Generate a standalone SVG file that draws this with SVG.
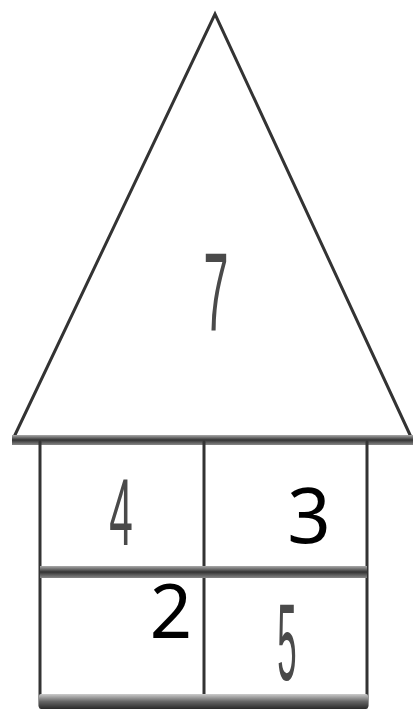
<svg xmlns="http://www.w3.org/2000/svg" width="415" height="714" viewBox="0 0 415 714">
  <style>
    .edge { stroke: #333; stroke-width: 3; fill: none; stroke-linecap: round; }
    .hand { font-family: "Liberation Sans", Arial, sans-serif; fill: #4a4a4a; text-anchor: middle; }
    .num { font-family: "Noto Sans", "Open Sans", sans-serif; fill: #000; text-anchor: middle; }
  </style>
  <defs>
    <linearGradient id="band" x1="0" y1="0" x2="0" y2="1">
      <stop offset="0" stop-color="#ccc"/>
      <stop offset="0.5" stop-color="#666"/>
      <stop offset="1" stop-color="#2a2a2a"/>
    </linearGradient>
    <linearGradient id="thin" x1="0" y1="0" x2="0" y2="1">
      <stop offset="0" stop-color="#aaa"/>
      <stop offset="0.5" stop-color="#333"/>
      <stop offset="1" stop-color="#888"/>
    </linearGradient>
  </defs>
  <rect width="415" height="714" fill="#fff"/>

  <g id="roof">
    <polyline class="edge" points="14,437 215,14 411,437"/>
    <rect x="12" y="435" width="401" height="10" fill="url(#thin)"/>
  </g>

  <g id="house">
    <line class="edge" x1="40" y1="442" x2="40" y2="706"/>
    <line class="edge" x1="367" y1="442" x2="367" y2="706"/>
    <line class="edge" x1="204" y1="442" x2="204" y2="706"/>
    <rect x="40" y="566" width="327" height="12" fill="url(#thin)"/>
    <rect x="39" y="694" width="329" height="15" rx="2" fill="url(#band)"/>
  </g>

  <g id="labels">
    <text class="hand" font-size="112" transform="translate(216,330) scale(0.4,1)">7</text>
    <text class="hand" font-size="94" transform="translate(121,545) scale(0.45,1)">4</text>
    <text class="hand" font-size="109" transform="translate(287,680) scale(0.32,1)">5</text>
    <text class="num" x="309" y="543" font-size="76">3</text>
    <text class="num" x="171" y="638" font-size="74">2</text>
  </g>
</svg>
